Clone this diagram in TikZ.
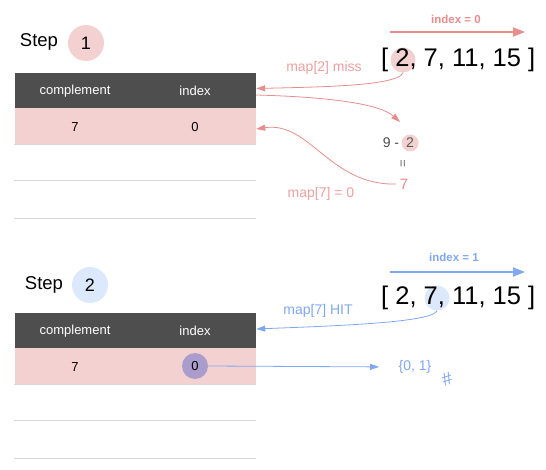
\documentclass[tikz,border=0pt]{standalone}
\usepackage{fontspec}
\setmainfont{Liberation Sans}
\usetikzlibrary{arrows.meta,positioning}
\definecolor{hdrgray}{RGB}{78,78,78}
\definecolor{rowpink}{RGB}{243,209,209}
\definecolor{pinkln}{RGB}{232,140,140}
\definecolor{pinktxt}{RGB}{236,160,160}
\definecolor{bluebg}{RGB}{220,232,251}
\definecolor{blueln}{RGB}{127,167,242}
\definecolor{hitpurple}{RGB}{170,156,203}
\definecolor{rulegray}{RGB}{216,216,216}

\tikzset{
  steplbl/.style={inner sep=0, font=\fontsize{18.5}{20}\selectfont},
  stepdot/.style={circle, minimum size=36pt, inner sep=0, font=\fontsize{18}{20}\selectfont},
  headbar/.style={fill=hdrgray, minimum width=241pt, minimum height=35pt, inner sep=0},
  rowbar/.style={fill=rowpink, minimum width=241pt, minimum height=36pt, inner sep=0},
  headtxt/.style={text=white, font=\fontsize{13}{15}\selectfont},
  celltxt/.style={font=\fontsize{13}{15}\selectfont},
  arraytxt/.style={inner sep=0, anchor=west, font=\fontsize{25.5}{27}\selectfont},
  hitdot/.style={circle, inner sep=0, minimum size=25pt},
  idxtxt/.style={font=\bfseries\fontsize{11.5}{13}\selectfont},
  lbl/.style={font=\fontsize{14}{16}\selectfont},
  idxarrow/.style={line width=1.6pt, -{Triangle[length=12pt,width=9pt]}},
  maparrow/.style={line width=0.8pt, -{Triangle[length=9pt,width=6pt]}},
  rule/.style={rulegray, line width=0.8pt}
}

\begin{document}
\begin{tikzpicture}[x=1pt, y=-1pt]
  \useasboundingbox (0,0) rectangle (546,470);

  % ---- step 1 : 2 is not in the map yet ----
  \node[steplbl] (stepA) at (39,42) {Step};
  \node[stepdot, fill=rowpink] (numA) at (86,43) {1};

  \node[headbar] (hdA) at (135.5,90.5) {};
  \node[headtxt] (hcA) at (75,91) {complement};
  \node[headtxt] (hiA) at (195,91) {index};
  \node[rowbar] (rowA) at (135.5,126) {};
  \node[celltxt] (cA) at (75,127) {7};
  \node[celltxt] (iA) at (195,127) {0};
  \foreach \y in {144,180,218}
    \draw[rule] (14,\y) -- (256,\y);

  % current index
  \node[idxtxt, text=pinkln] (idxA) at (456,19) {index = 0};
  \coordinate (sA) at (390,32);
  \coordinate (eA) at (525,32);
  \draw[idxarrow, pinkln] (sA) -- (eA);

  % the array, current element marked
  \node[hitdot, fill=rowpink] (hitA) at (403,60) {};
  \node[arraytxt] (arrA) at (381,60) {[ 2, 7, 11, 15 ]};

  % lookup, then store the complement
  \node[lbl, text=pinktxt] (missA) at (324,68) {map[2] miss};
  \draw[maparrow, pinkln] (hitA.south) .. controls (398,86) and (320,87) .. ([yshift=2pt]hdA.east);

  \node[lbl, text=black!70, inner sep=1pt] (nineA) at (391,143) {9 -};
  \node[circle, fill=rowpink, inner sep=0, minimum size=17pt, lbl, text=black!65, right=1pt of nineA] (twoA) {2};
  \node[font=\fontsize{13}{15}\selectfont, text=black!60, rotate=90] (eqA) at (404,164) {=};
  \node[lbl, font=\fontsize{15}{17}\selectfont, text=pinkln] (sevA) at (404,184) {7};
  \coordinate (inA) at (400,122);
  \draw[maparrow, pinkln] ([yshift=-4.5pt]hdA.east) .. controls (330,97) and (380,104) .. (inA);

  \node[lbl, text=pinktxt] (putA) at (321,194) {map[7] = 0};
  \draw[maparrow, pinkln] (sevA.west) .. controls (330,186) and (310,121) .. ([yshift=-3pt]rowA.east);

  % ---- step 2 : 7 is found ----
  \node[steplbl] (stepB) at (44,285) {Step};
  \node[stepdot, fill=bluebg] (numB) at (90,285) {2};

  \node[headbar] (hdB) at (135.5,330.5) {};
  \node[headtxt] (hcB) at (75,331) {complement};
  \node[headtxt] (hiB) at (195,331) {index};
  \node[rowbar] (rowB) at (135.5,366) {};
  \node[celltxt] (cB) at (75,367) {7};
  \node[circle, fill=hitpurple, inner sep=0, minimum size=26pt, celltxt] (iB) at (195,366) {0};
  \foreach \y in {384,420,458}
    \draw[rule] (14,\y) -- (256,\y);

  \node[idxtxt, text=blueln] (idxB) at (454,257) {index = 1};
  \coordinate (sB) at (390,272);
  \coordinate (eB) at (525,272);
  \draw[idxarrow, blueln] (sB) -- (eB);

  \node[hitdot, fill=bluebg] (hitB) at (437,298) {};
  \node[arraytxt] (arrB) at (381,298) {[ 2, 7, 11, 15 ]};

  \node[lbl, text=blueln] (hitlB) at (318,311) {map[7] HIT};
  \draw[maparrow, blueln] (hitB.south) .. controls (432,323) and (330,326) .. ([yshift=1.5pt]hdB.east);

  % answer pair
  \node[lbl, text=blueln] (pairB) at (415,367) {\{0, 1\}};
  \draw[maparrow, blueln, shorten >=16pt] (iB.east) -- (pairB.west);
  \node[text=blueln, font=\fontsize{18}{20}\selectfont, rotate=18] (hashB) at (447,379) {\#};
\end{tikzpicture}
\end{document}
